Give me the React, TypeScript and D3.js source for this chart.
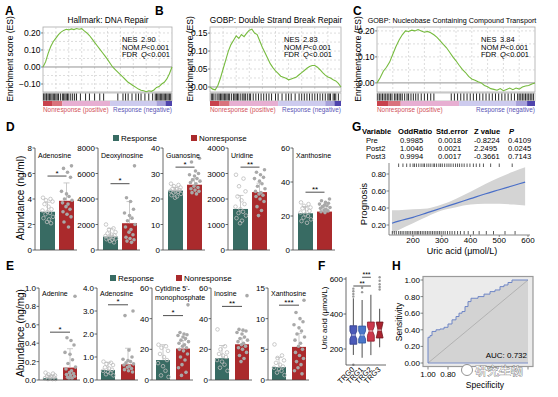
import React from "react";
import * as d3 from "d3";

const FONT = "'Liberation Sans', Arial, Helvetica, sans-serif";

// ===== A–C : GSEA =====
const gseaTitles = ["Hallmark: DNA Repair", "GOBP: Double Strand Break Repair", "GOBP: Nucleobase Containing Compound Transport"];
const gseaNES = ["2.90", "2.83", "3.84"];
const gseaNOM = ["<0.001", "<0.001", "<0.001"];
const gseaFDR = ["<0.001", "<0.001", "<0.001"];
const esRank = d3.range(51).map((i) => i / 50);
const esA = [0, 0.03, 0.08, 0.12, 0.15, 0.17, 0.19, 0.205, 0.215, 0.222, 0.218, 0.224, 0.22, 0.226, 0.222, 0.225, 0.212, 0.2, 0.185, 0.165, 0.145, 0.125, 0.105, 0.085, 0.065, 0.045, 0.022, 0.0, -0.015, -0.03, -0.045, -0.06, -0.075, -0.09, -0.1, -0.11, -0.12, -0.13, -0.137, -0.14, -0.145, -0.14, -0.143, -0.135, -0.12, -0.115, -0.1, -0.09, -0.07, -0.04, 0];
const esB = [0, -0.006, -0.008, 0.004, 0.025, 0.05, 0.075, 0.1, 0.118, 0.13, 0.142, 0.135, 0.146, 0.14, 0.15, 0.158, 0.161, 0.15, 0.146, 0.128, 0.11, 0.095, 0.08, 0.065, 0.054, 0.045, 0.038, 0.03, 0.027, 0.024, 0.02, 0.022, 0.025, 0.028, 0.034, 0.04, 0.046, 0.052, 0.057, 0.06, 0.06, 0.055, 0.048, 0.04, 0.033, 0.028, 0.025, 0.02, 0.017, 0.01, 0];
const esC = [0, 0.02, 0.045, 0.06, 0.08, 0.11, 0.14, 0.165, 0.185, 0.2, 0.198, 0.203, 0.2, 0.205, 0.2, 0.195, 0.198, 0.193, 0.185, 0.175, 0.162, 0.148, 0.135, 0.118, 0.1, 0.085, 0.068, 0.052, 0.04, 0.025, 0.015, 0.01, 0.004, 0.0, -0.01, -0.015, -0.022, -0.025, -0.028, -0.022, -0.03, -0.025, -0.02, -0.026, -0.02, -0.024, -0.016, -0.012, -0.01, -0.004, 0];
const hitsA = [0.005, 0.015, 0.025, 0.03, 0.04, 0.05, 0.06, 0.07, 0.08, 0.09, 0.1, 0.11, 0.12, 0.135, 0.15, 0.16, 0.17, 0.18, 0.19, 0.2, 0.215, 0.23, 0.245, 0.26, 0.29, 0.33, 0.36, 0.4, 0.44, 0.47, 0.58, 0.62, 0.64, 0.66, 0.69, 0.72, 0.74, 0.76, 0.79, 0.82, 0.85, 0.87, 0.88, 0.89, 0.9, 0.91, 0.92, 0.93, 0.94, 0.95, 0.96, 0.97, 0.98, 0.99];
const hitsB = [0.01, 0.02, 0.03, 0.045, 0.06, 0.07, 0.08, 0.09, 0.1, 0.11, 0.12, 0.13, 0.14, 0.15, 0.165, 0.18, 0.19, 0.2, 0.21, 0.22, 0.235, 0.25, 0.26, 0.27, 0.285, 0.3, 0.31, 0.33, 0.35, 0.37, 0.39, 0.41, 0.43, 0.45, 0.47, 0.5, 0.52, 0.55, 0.58, 0.6, 0.62, 0.65, 0.68, 0.7, 0.72, 0.74, 0.76, 0.78, 0.8, 0.82, 0.84, 0.86, 0.88, 0.9, 0.91, 0.92, 0.94, 0.95, 0.96, 0.98];
const hitsC = [0.005, 0.015, 0.025, 0.035, 0.045, 0.055, 0.065, 0.075, 0.085, 0.095, 0.11, 0.12, 0.13, 0.14, 0.15, 0.16, 0.175, 0.19, 0.2, 0.215, 0.23, 0.245, 0.26, 0.28, 0.3, 0.32, 0.34, 0.36, 0.47, 0.49, 0.51, 0.53, 0.55, 0.57, 0.59, 0.61, 0.63, 0.65, 0.67, 0.69, 0.71, 0.73, 0.75, 0.77, 0.79, 0.81, 0.83, 0.85, 0.87, 0.89, 0.9, 0.91, 0.92, 0.93, 0.94, 0.95, 0.96, 0.97, 0.98, 0.99];

// ===== D : serum =====
const dNames = ["Adenosine", "Deoxyinosine", "Guanosine", "Uridine", "Xanthosine"];
const dMax = [8, 8000, 40, 4000, 60];
const dStep = [2, 2000, 10, 1000, 20];
const dRespMean = [3.0, 1050, 23.3, 1610, 21.6];
const dRespSd = [0.75, 650, 1.3, 530, 4];
const dNonMean = [3.86, 2100, 25.6, 2270, 22.6];
const dNonSd = [1.4, 1700, 2.4, 350, 3.5];
const dSig = [5.8, 5200, 32.5, 3250, 34];
const dSigLabel = ["*", "*", "*", "**", "**"];
const dRespPts = [
  [4.1, 4.0, 3.9, 3.8, 3.6, 3.4, 3.2, 3.1, 3.0, 2.9, 2.8, 2.6, 2.5, 2.4, 2.2, 2.1],
  [2000, 1700, 1600, 1400, 1300, 1200, 1150, 1100, 1050, 1000, 950, 900, 850, 800, 700, 600],
  [26, 25.5, 25, 24.5, 24, 23.8, 23.5, 23.2, 23, 22.8, 22.5, 22, 21.5, 21, 20.5],
  [2950, 2800, 2500, 2300, 2100, 1950, 1800, 1700, 1600, 1500, 1450, 1350, 1250, 1150, 1050],
  [28, 27, 26, 25, 24.5, 24, 23, 22, 21, 20, 19, 18, 17, 16],
];
const dNonPts = [
  [6.6, 6.4, 6.1, 5.7, 4.6, 4.4, 4.2, 4.0, 3.9, 3.7, 3.6, 3.4, 3.2, 3.0, 2.8, 2.6, 2.2, 1.8],
  [6600, 4100, 3800, 3200, 2900, 2700, 2500, 2300, 2000, 1800, 1600, 1400, 1200, 1000, 900, 800, 700, 600],
  [36, 34.5, 31, 30, 29.5, 29, 28, 27.5, 27, 26.5, 26, 25, 24.5, 24, 23.5, 23, 22.5, 22],
  [3150, 3050, 2950, 2850, 2800, 2700, 2600, 2500, 2400, 2300, 2250, 2200, 2150, 2100, 2000, 1900, 1700, 1550, 1350],
  [30, 29, 28, 27.5, 27, 26.5, 26, 25.5, 25, 24.5, 24, 23.5, 23, 22.5, 22],
];

// ===== E : tissue =====
const eNameLines = [["Adenine"], ["Adenosine"], ["Cytidine 5'-", "monophosphate"], ["Inosine"], ["Xanthosine"]];
const eMax = [1.0, 4.0, 60, 60, 15];
const eStep = [0.2, 1.0, 20, 20, 5];
const eTickFmt = [".1f", ".1f", "d", "d", "d"];
const eRespMean = [0.02, 0.43, 13, 14.2, 2.1];
const eRespSd = [0.03, 0.34, 10, 8.3, 1.6];
const eNonMean = [0.135, 0.68, 20.5, 23.3, 5.4];
const eNonSd = [0.205, 0.7, 5.3, 4, 2.2];
const eSig = [0.52, 3.27, 42, 48, 12.2];
const eSigLabel = ["*", "*", "*", "**", "***"];
const eRespPts = [
  [0.08, 0.07, 0.06, 0.05, 0.04, 0.04, 0.03, 0.02, 0.02, 0.01, 0.01, 0.01],
  [0.8, 0.75, 0.7, 0.65, 0.55, 0.5, 0.45, 0.4, 0.35, 0.3, 0.25, 0.2],
  [23, 22, 21, 19, 17, 15, 13, 11, 9, 6, 3, 2],
  [33, 22, 20, 18, 17, 16, 15, 13, 12, 10, 8, 6],
  [5.8, 4.0, 3.6, 3.2, 2.8, 2.5, 2.2, 2.0, 1.8, 1.5, 1.2, 0.8],
];
const eNonPts = [
  [0.91, 0.46, 0.43, 0.38, 0.3, 0.28, 0.22, 0.18, 0.14, 0.12, 0.1, 0.08, 0.07, 0.06, 0.05, 0.04, 0.03, 0.02, 0.02],
  [3.0, 2.8, 1.3, 1.0, 0.9, 0.85, 0.8, 0.75, 0.7, 0.65, 0.6, 0.55, 0.5, 0.45, 0.4, 0.35],
  [49, 31, 30, 29.5, 29, 28, 27, 26, 25, 24, 23, 22, 21, 20, 19, 17, 15, 13, 10, 8, 5, 3],
  [55, 33, 32.5, 32, 31, 30, 28, 27, 26, 25, 24, 23, 22, 21, 20, 18, 16, 14, 12],
  [13, 11, 10, 9.5, 9, 8.5, 8, 7.5, 7, 6.5, 6, 5.5, 5, 4.5, 4, 3.5, 3, 2.5, 2, 1.5, 1],
];

// ===== F : uric acid by TRG =====
const trgLabels = ["TRG0", "TRG1", "TRG2", "TRG3"];
const trgLow = [166, 150, 165, 210];
const trgQ1 = [227, 234, 245, 263];
const trgMedian = [280, 280, 303, 308];
const trgQ3 = [333, 331, 354, 354];
const trgHigh = [490, 480, 510, 430];
const trgNotch = [22, 22, 25, 45];
const trgOutliers = [[545, 530, 515, 500, 110], [550, 525], [], [610, 590, 570, 555, 540]];
const fSig = [{ a: 1, b: 2, v: 610, t: "***" }, { a: 0, b: 2, v: 560, t: "**" }];

// ===== G : prognosis =====
const gHeader = ["Variable", "OddRatio", "Std.error", "Z value", "P"];
const gVars = ["Pre", "Post2", "Post3"];
const gOdds = ["0.9985", "1.0046", "0.9994"];
const gStdErr = ["0.0018", "0.0021", "0.0017"];
const gZ = ["-0.8224", "2.2495", "-0.3661"];
const gP = ["0.4109", "0.0245", "0.7143"];
const uricX = [127, 150, 200, 250, 300, 350, 400, 450, 500, 550, 590];
const progFit = [0.22, 0.245, 0.29, 0.345, 0.4, 0.455, 0.51, 0.565, 0.615, 0.665, 0.705];
const progLo = [0.1, 0.14, 0.22, 0.3, 0.37, 0.41, 0.44, 0.45, 0.45, 0.44, 0.43];
const progHi = [0.375, 0.375, 0.385, 0.395, 0.44, 0.51, 0.59, 0.68, 0.76, 0.83, 0.88];
const rugTop = [150, 165, 178, 190, 200, 205, 212, 220, 228, 235, 240, 248, 255, 262, 270, 275, 282, 290, 296, 302, 310, 318, 325, 332, 340, 348, 355, 362, 370, 378, 388, 398, 410, 420, 432, 445, 470, 500, 545];
const rugBottom = [128, 135, 142, 150, 156, 162, 168, 175, 180, 186, 192, 198, 204, 210, 215, 220, 226, 232, 238, 244, 250, 256, 262, 268, 274, 280, 286, 292, 298, 305, 312, 320, 328, 336, 345, 355, 365, 378, 392, 410, 430, 455, 480, 520, 555];

// ===== H : ROC =====
const rocSpec = [1, 1, 0.98, 0.96, 0.92, 0.88, 0.84, 0.8, 0.76, 0.72, 0.69, 0.66, 0.63, 0.6, 0.57, 0.5, 0.44, 0.38, 0.33, 0.28, 0.24, 0.2, 0.16, 0];
const rocSens = [0, 0.31, 0.33, 0.38, 0.4, 0.41, 0.43, 0.47, 0.52, 0.56, 0.6, 0.62, 0.68, 0.74, 0.78, 0.8, 0.83, 0.86, 0.88, 0.92, 0.94, 0.97, 1, 1];
const rocTicks = [1, 0.8, 0.6, 0.4, 0.2, 0];
const rocTickLabelsShown = [1, 0.8];
const aucText = "AUC: 0.732";
const watermark = "研究生物";

// ---------- layout constants ----------
const TEAL = "#386b63";
const RED = "#aa2a2c";
const JIT = [-4.5, 3, -1.5, 5, -3, 1, 4, -5, 0, 2.5, -2, 5.5, -4, 1.5, -0.5, 3.5, -3.5, 0.5, 4.5, -2.5, 2, -1];

const gseaLayout = [
  { x0: 43, x1: 172, dom: [-0.147, 0.235], ticks: [-0.1, 0, 0.1, 0.2], grid: [-0.1, -0.05, 0.05, 0.1, 0.15, 0.2], letterX: 5, ylabX: 10, nesX: 122, titleX: 108, titleSize: 8.3 },
  { x0: 210, x1: 341, dom: [-0.014, 0.167], ticks: [0, 0.05, 0.1, 0.15], grid: [0.025, 0.05, 0.075, 0.1, 0.125, 0.15], letterX: 155, ylabX: 190, nesX: 284, titleX: 276, titleSize: 8.3 },
  { x0: 377, x1: 535, dom: [-0.035, 0.215], ticks: [0, 0.1, 0.2], grid: [0.05, 0.1, 0.15, 0.2], letterX: 353, ylabX: 358, nesX: 481, titleX: 452, titleSize: 7.2 },
];
const colorSegs = [
  { f0: 0, f1: 0.07, c: "#c8434d" },
  { f0: 0.07, f1: 0.15, c: "#d9737c" },
  { f0: 0.15, f1: 0.52, c: "#e7afd2" },
  { f0: 0.52, f1: 0.88, c: "#cdcbee" },
  { f0: 0.88, f1: 0.95, c: "#a7a1da" },
  { f0: 0.95, f1: 1, c: "#4f44ad" },
];

function GseaPanel({ idx }: { idx: number }) {
  const L = gseaLayout[idx];
  const vals = [esA, esB, esC][idx];
  const hits = [hitsA, hitsB, hitsC][idx];
  const x = d3.scaleLinear().domain([0, 1]).range([L.x0, L.x1]);
  const y = d3.scaleLinear().domain(L.dom).range([92, 27]);
  const line = d3.line<number>().x((_, k) => x(esRank[k])).y((d) => y(d));
  const vgrid = d3.range(1, 10).map((k) => k / 10);
  const fmt = d3.format(".2f");
  const vx = L.nesX + 19;
  return (
    <g fontFamily={FONT}>
      <text x={L.letterX} y={15} fontSize={12} fontWeight="bold">{"ABC"[idx]}</text>
      <text x={L.titleX} y={23} fontSize={L.titleSize} textAnchor="middle">{gseaTitles[idx]}</text>
      <text transform={`translate(${L.ylabX + 3},59) rotate(-90)`} fontSize={8.5} textAnchor="middle">Enrichment score (ES)</text>
      <rect x={L.x0} y={27} width={L.x1 - L.x0} height={65} fill="white" stroke="#aaa" strokeWidth={0.8} />
      {vgrid.map((f) => (
        <line key={"v" + f} x1={x(f)} x2={x(f)} y1={27} y2={92} stroke="#cfcfcf" strokeDasharray="2,2" strokeWidth={0.7} />
      ))}
      {L.grid.map((g) => (
        <line key={"h" + g} x1={L.x0} x2={L.x1} y1={y(g)} y2={y(g)} stroke="#cfcfcf" strokeDasharray="2,2" strokeWidth={0.7} />
      ))}
      <line x1={L.x0} x2={L.x1} y1={y(0)} y2={y(0)} stroke="#888" strokeWidth={0.9} />
      {L.ticks.map((t) => (
        <g key={"t" + t}>
          <line x1={L.x0 - 2} x2={L.x0} y1={y(t)} y2={y(t)} stroke="#555" strokeWidth={0.7} />
          <text x={L.x0 - 2.5} y={y(t) + 3} fontSize={8.5} textAnchor="end">{fmt(t)}</text>
        </g>
      ))}
      <path d={line(vals) || ""} fill="none" stroke="#77bb3f" strokeWidth={1.1} />
      <g fontSize={7.5}>
        <text x={L.nesX} y={42}>NES</text>
        <text x={vx} y={42}>{gseaNES[idx]}</text>
        <text x={L.nesX} y={49.5}>NOM</text>
        <text x={vx} y={49.5}><tspan fontStyle="italic">P</tspan>{gseaNOM[idx]}</text>
        <text x={L.nesX} y={57}>FDR</text>
        <text x={vx} y={57}><tspan fontStyle="italic">Q</tspan>{gseaFDR[idx]}</text>
      </g>
      <rect x={L.x0} y={93} width={L.x1 - L.x0} height={8} fill="white" stroke="#999" strokeWidth={0.6} />
      {hits.map((h, k) => (
        <line key={"r" + k} x1={x(h)} x2={x(h)} y1={93.5} y2={100.5} stroke="#111" strokeWidth={0.9} />
      ))}
      {colorSegs.map((s, k) => (
        <rect key={"c" + k} x={x(s.f0)} y={101} width={x(s.f1) - x(s.f0)} height={5} fill={s.c} />
      ))}
      <text x={L.x0} y={112} fontSize={6.4} fill="#d2525a">Nonresponse (positive)</text>
      <text x={L.x1} y={112} fontSize={6.4} fill="#5a55b5" textAnchor="end">Response (negative)</text>
    </g>
  );
}

type BarProps = {
  ax: number; y0: number; yTop: number; max: number; step: number; fmt: string;
  lines: string[]; bw: number; offT: number; offR: number;
  rm: number; rs: number; nm: number; ns: number; rp: number[]; np: number[];
  sig: number; sigTxt: string; nameY: number;
};

function BarSub(p: BarProps) {
  const y = d3.scaleLinear().domain([0, p.max]).range([p.y0, p.yTop]);
  const ticks = d3.range(0, p.max + p.step / 2, p.step);
  const f = d3.format(p.fmt);
  const tx = p.ax + p.offT;
  const rx = p.ax + p.offR;
  const tc = tx + p.bw / 2;
  const rc = rx + p.bw / 2;
  const err = (cx: number, m: number, s: number) => (
    <g stroke="#c4c4c4" strokeWidth={0.9}>
      <line x1={cx} x2={cx} y1={y(m)} y2={y(m + s)} />
      <line x1={cx - 3} x2={cx + 3} y1={y(m + s)} y2={y(m + s)} />
    </g>
  );
  return (
    <g fontFamily={FONT}>
      <rect x={tx} y={y(p.rm)} width={p.bw} height={p.y0 - y(p.rm)} fill={TEAL} />
      <rect x={rx} y={y(p.nm)} width={p.bw} height={p.y0 - y(p.nm)} fill={RED} />
      {err(tc, p.rm, p.rs)}
      {err(rc, p.nm, p.ns)}
      {p.rp.map((v, k) => (
        <circle key={"a" + k} cx={tc + JIT[k % JIT.length]} cy={y(v)} r={1.8} fill="none" stroke="#bdbdbd" strokeWidth={0.8} />
      ))}
      {p.np.map((v, k) => (
        <circle key={"b" + k} cx={rc + JIT[(k + 3) % JIT.length]} cy={y(v)} r={1.8} fill="#a9a9a9" />
      ))}
      <line x1={p.ax} x2={p.ax} y1={p.y0} y2={p.yTop} stroke="#444" strokeWidth={0.8} />
      <line x1={p.ax} x2={rx + p.bw + 3} y1={p.y0} y2={p.y0} stroke="#444" strokeWidth={0.8} />
      {ticks.map((t) => (
        <g key={"t" + t}>
          <line x1={p.ax - 2.5} x2={p.ax} y1={y(t)} y2={y(t)} stroke="#444" strokeWidth={0.8} />
          <text x={p.ax - 3} y={y(t) + 3} fontSize={8} textAnchor="end">{f(t)}</text>
        </g>
      ))}
      <line x1={tc} x2={rc} y1={y(p.sig)} y2={y(p.sig)} stroke="#222" strokeWidth={0.8} />
      <text x={(tc + rc) / 2} y={y(p.sig) - 0.5} fontSize={8} textAnchor="middle">{p.sigTxt}</text>
      {p.lines.map((s, k) => (
        <text key={"n" + k} x={p.ax + 3} y={p.nameY + k * 8.5} fontSize={7}>{s}</text>
      ))}
    </g>
  );
}

function Legend({ x1, x2, y }: { x1: number; x2: number; y: number }) {
  return (
    <g fontFamily={FONT} fontSize={8}>
      <rect x={x1} y={y} width={6} height={6} fill={TEAL} />
      <text x={x1 + 8} y={y + 6}>Response</text>
      <rect x={x2} y={y} width={6} height={6} fill={RED} />
      <text x={x2 + 8} y={y + 6}>Nonresponse</text>
    </g>
  );
}

const dAxisX = [35, 98, 163, 228, 293];
const eAxisX = [39, 97, 152, 211, 268];

function PanelF() {
  const y = d3.scaleLinear().domain([200, 600]).range([349, 279]);
  const x = d3.scaleBand<string>().domain(trgLabels).range([348, 385]).padding(0.22);
  const fills = ["#4b5ab8", "#4a77c9", "#cb384c", "#a9232f"];
  const strokes = ["#2e3a86", "#2c539e", "#8c1e2e", "#70141d"];
  const hw = x.bandwidth() / 2;
  return (
    <g fontFamily={FONT}>
      <text x={318} y={270} fontSize={12} fontWeight="bold">F</text>
      <text transform="translate(327,318) rotate(-90)" fontSize={8} textAnchor="middle">Uric acid (μmol/L)</text>
      {trgLabels.map((lab, i) => {
        const cx = (x(lab) || 0) + hw;
        const ins = 1.8;
        const yq1 = y(trgQ1[i]), yq3 = y(trgQ3[i]), ym = y(trgMedian[i]);
        const nu = y(Math.min(trgQ3[i], trgMedian[i] + trgNotch[i]));
        const nl = y(Math.max(trgQ1[i], trgMedian[i] - trgNotch[i]));
        const path = `M${cx - hw},${yq3}L${cx + hw},${yq3}L${cx + hw},${nu}L${cx + hw - ins},${ym}L${cx + hw},${nl}L${cx + hw},${yq1}L${cx - hw},${yq1}L${cx - hw},${nl}L${cx - hw + ins},${ym}L${cx - hw},${nu}Z`;
        return (
          <g key={lab}>
            <line x1={cx} x2={cx} y1={yq3} y2={y(trgHigh[i])} stroke="#222" strokeWidth={0.8} />
            <line x1={cx} x2={cx} y1={yq1} y2={y(trgLow[i])} stroke="#222" strokeWidth={0.8} />
            <path d={path} fill={fills[i]} stroke={strokes[i]} strokeWidth={0.8} />
            <line x1={cx - hw + ins} x2={cx + hw - ins} y1={ym} y2={ym} stroke="#e8e8e8" strokeWidth={0.9} />
            {trgOutliers[i].map((v, k) => (
              <circle key={k} cx={cx} cy={y(v)} r={1.2} fill="#9a9a9a" />
            ))}
            <text transform={`translate(${cx + 1.5},${370}) rotate(-45)`} fontSize={7.5} textAnchor="end">{lab}</text>
          </g>
        );
      })}
      {fSig.map((s, k) => {
        const a = (x(trgLabels[s.a]) || 0) + hw;
        const b = (x(trgLabels[s.b]) || 0) + hw;
        return (
          <g key={k}>
            <line x1={a} x2={b} y1={y(s.v)} y2={y(s.v)} stroke="#222" strokeWidth={0.8} />
            <text x={(a + b) / 2} y={y(s.v) - 0.3} fontSize={7} textAnchor="middle">{s.t}</text>
          </g>
        );
      })}
      <line x1={346} x2={346} y1={277} y2={365} stroke="#444" strokeWidth={0.8} />
      <line x1={346} x2={386} y1={365} y2={365} stroke="#444" strokeWidth={0.8} />
      {[200, 400, 600].map((t) => (
        <g key={t}>
          <line x1={343.5} x2={346} y1={y(t)} y2={y(t)} stroke="#444" strokeWidth={0.8} />
          <text x={343} y={y(t) + 3} fontSize={8} textAnchor="end">{t}</text>
        </g>
      ))}
    </g>
  );
}

function PanelG() {
  const x = d3.scaleLinear().domain([200, 600]).range([413, 528]);
  const y = d3.scaleLinear().domain([0.2, 0.8]).range([225, 174]);
  const area = d3.area<number>().x((_, k) => x(uricX[k])).y0((_, k) => y(progLo[k])).y1((_, k) => y(progHi[k])).curve(d3.curveMonotoneX);
  const line = d3.line<number>().x((_, k) => x(uricX[k])).y((d) => y(d)).curve(d3.curveMonotoneX);
  const colX = [362, 398, 436, 474, 509];
  return (
    <g fontFamily={FONT}>
      <text x={352} y={131} fontSize={12} fontWeight="bold">G</text>
      {gHeader.map((h, k) => (
        <text key={h} x={colX[k]} y={134} fontSize={7.6} fontWeight="bold" fontStyle={h === "P" ? "italic" : "normal"}>{h}</text>
      ))}
      {gVars.map((v, r) => (
        <g key={v} fontSize={7.6}>
          <text x={366} y={142.5 + r * 8}>{v}</text>
          <text x={400} y={142.5 + r * 8}>{gOdds[r]}</text>
          <text x={438} y={142.5 + r * 8}>{gStdErr[r]}</text>
          <text x={474} y={142.5 + r * 8}>{gZ[r]}</text>
          <text x={508} y={142.5 + r * 8}>{gP[r]}</text>
        </g>
      ))}
      <path d={area(progFit) || ""} fill="#d4d4d4" />
      <path d={line(progFit) || ""} fill="none" stroke="#4a6fc8" strokeWidth={1.2} />
      {rugTop.map((v, k) => (
        <line key={"t" + k} x1={x(v)} x2={x(v)} y1={163.5} y2={167} stroke="#111" strokeWidth={0.7} />
      ))}
      {rugBottom.map((v, k) => (
        <line key={"b" + k} x1={x(v)} x2={x(v)} y1={231} y2={234.5} stroke="#111" strokeWidth={0.7} />
      ))}
      <line x1={389} x2={389} y1={163} y2={235} stroke="#555" strokeWidth={0.7} />
      {[0.2, 0.4, 0.6, 0.8].map((t) => (
        <g key={t}>
          <line x1={386.5} x2={389} y1={y(t)} y2={y(t)} stroke="#555" strokeWidth={0.7} />
          <text x={386} y={y(t) + 3} fontSize={7.5} textAnchor="end">{t.toFixed(2)}</text>
        </g>
      ))}
      <line x1={389} x2={530} y1={235} y2={235} stroke="#555" strokeWidth={0.7} />
      {[200, 300, 400, 500, 600].map((t) => (
        <g key={t}>
          <line x1={x(t)} x2={x(t)} y1={235} y2={237} stroke="#555" strokeWidth={0.7} />
          <text x={x(t)} y={243} fontSize={8} textAnchor="middle">{t}</text>
        </g>
      ))}
      <text transform="translate(367,204) rotate(-90)" fontSize={9.5} textAnchor="middle">Prognosis</text>
      <text x={462} y={253.5} fontSize={9} textAnchor="middle">Uric acid (μmol/L)</text>
    </g>
  );
}

function PanelH() {
  const x = d3.scaleLinear().domain([1, 0]).range([428, 528]);
  const y = d3.scaleLinear().domain([0, 1]).range([363, 280]);
  const line = d3.line<number>().x((_, k) => x(rocSpec[k])).y((d) => y(d)).curve(d3.curveStepAfter);
  const area = d3.area<number>().x((_, k) => x(rocSpec[k])).y0(y(0)).y1((d) => y(d)).curve(d3.curveStepAfter);
  return (
    <g fontFamily={FONT}>
      <text x={392} y={270} fontSize={12} fontWeight="bold">H</text>
      <rect x={423} y={276.5} width={110} height={90} fill="#ebebeb" stroke="#9a9a9a" strokeWidth={1.2} />
      <path d={area(rocSens) || ""} fill="#d3d3d3" />
      <line x1={x(1)} y1={y(0)} x2={x(0)} y2={y(1)} stroke="#a9a9a9" strokeWidth={0.8} />
      <line x1={x(1)} x2={x(0)} y1={y(0)} y2={y(0)} stroke="#6f86c6" strokeWidth={0.9} />
      <path d={line(rocSens) || ""} fill="none" stroke="#6f86c6" strokeWidth={1} />
      {rocTicks.map((t) => (
        <g key={"y" + t}>
          <line x1={420.5} x2={423} y1={y(t)} y2={y(t)} stroke="#555" strokeWidth={0.7} />
          <text x={420} y={y(t) + 3} fontSize={8} textAnchor="end">{t.toFixed(2)}</text>
        </g>
      ))}
      {rocTicks.map((t) => (
        <line key={"xt" + t} x1={x(t)} x2={x(t)} y1={367} y2={369.5} stroke="#555" strokeWidth={0.7} />
      ))}
      {rocTickLabelsShown.map((t) => (
        <text key={"xl" + t} x={x(t)} y={377} fontSize={8} textAnchor="middle">{t.toFixed(2)}</text>
      ))}
      <text x={527} y={358} fontSize={8} textAnchor="end">{aucText}</text>
      <text transform="translate(402,322) rotate(-90)" fontSize={8.5} textAnchor="middle">Sensitivity</text>
      <text x={485} y={388} fontSize={8.5} textAnchor="middle">Specificity</text>
      <circle cx={467} cy={370} r={5.5} fill="white" stroke="#777" strokeWidth={0.8} />
      <text x={475} y={375} fontSize={12} fill="white" stroke="#555" strokeWidth={0.6} style={{ paintOrder: "stroke" }}>{watermark}</text>
    </g>
  );
}

export default function App() {
  return (
    <svg width={558} height={397} style={{ position: "absolute", left: 0, top: 0, background: "white" }}>
      <rect width={558} height={397} fill="white" />
      {[0, 1, 2].map((i) => <GseaPanel key={i} idx={i} />)}
      <g fontFamily={FONT}>
        <text x={6} y={131} fontSize={12} fontWeight="bold">D</text>
        <text transform="translate(24,198) rotate(-90)" fontSize={10} textAnchor="middle">Abundance (ng/ml)</text>
        <text x={6} y={270} fontSize={12} fontWeight="bold">E</text>
        <text transform="translate(24,333) rotate(-90)" fontSize={10} textAnchor="middle">Abundance (ng/mg)</text>
      </g>
      <Legend x1={113} x2={191} y={135} />
      <Legend x1={110} x2={176} y={275} />
      {dNames.map((n, i) => (
        <BarSub key={"d" + i} ax={dAxisX[i]} y0={250} yTop={148} max={dMax[i]} step={dStep[i]} fmt="d"
          lines={[n]} bw={15} offT={5} offR={24} rm={dRespMean[i]} rs={dRespSd[i]} nm={dNonMean[i]} ns={dNonSd[i]}
          rp={dRespPts[i]} np={dNonPts[i]} sig={dSig[i]} sigTxt={dSigLabel[i]} nameY={157.5} />
      ))}
      {eNameLines.map((n, i) => (
        <BarSub key={"e" + i} ax={eAxisX[i]} y0={380} yTop={288} max={eMax[i]} step={eStep[i]} fmt={eTickFmt[i]}
          lines={n} bw={14} offT={4} offR={24} rm={eRespMean[i]} rs={eRespSd[i]} nm={eNonMean[i]} ns={eNonSd[i]}
          rp={eRespPts[i]} np={eNonPts[i]} sig={eSig[i]} sigTxt={eSigLabel[i]} nameY={n.length > 1 ? 291 : 296} />
      ))}
      <PanelF />
      <PanelG />
      <PanelH />
    </svg>
  );
}
